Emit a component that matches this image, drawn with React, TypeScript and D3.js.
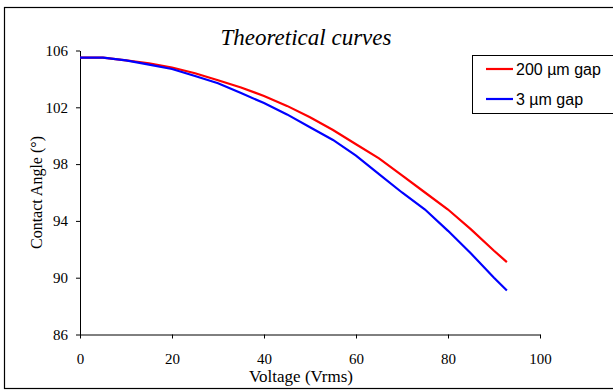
import React, { useEffect, useRef } from 'react';
import * as d3 from 'd3';

// Voltage (Vrms) sample points
const voltage = [0, 5, 10, 15, 20, 25, 30, 35, 40, 45, 50, 55, 60, 65, 70, 75, 80, 85, 90, 92.8];
// Contact angle (deg) for the 200 µm gap
const gap200 = [105.5, 105.5, 105.3, 105.1, 104.8, 104.4, 103.9, 103.4, 102.8, 102.1, 101.3, 100.4, 99.4, 98.4, 97.2, 96.0, 94.8, 93.4, 91.9, 91.1];
// Contact angle (deg) for the 3 µm gap
const gap3 = [105.5, 105.5, 105.3, 105.0, 104.7, 104.2, 103.7, 103.0, 102.3, 101.5, 100.6, 99.7, 98.6, 97.3, 96.0, 94.8, 93.3, 91.7, 90.0, 89.1];

const xTicks = [0, 20, 40, 60, 80, 100];
const yTicks = [86, 90, 94, 98, 102, 106];

const seriesNames = ['200 µm gap', '3 µm gap'];
const seriesColors = ['#ff0000', '#0000ff'];

const W = 613;
const H = 391;
const serif = '"Times New Roman", "Liberation Serif", serif';
const sans = 'Arial, "Liberation Sans", sans-serif';

export default function App() {
  const svgRef = useRef<SVGSVGElement>(null);

  useEffect(() => {
    if (!svgRef.current) return;
    const svg = d3.select(svgRef.current);
    svg.selectAll('*').remove();

    // outer frame (cut on the right like the source)
    svg.append('rect')
      .attr('x', 4.5).attr('y', 7.5)
      .attr('width', 620).attr('height', 381)
      .attr('fill', '#fff').attr('stroke', '#000').attr('stroke-width', 1.2);

    const x = d3.scaleLinear().domain([0, 100]).range([80, 540]);
    const y = d3.scaleLinear().domain([86, 106]).range([334.5, 50.5]);

    // x axis
    const xAxis = svg.append('g')
      .attr('transform', `translate(0,${y(86)})`)
      .call(d3.axisBottom(x).tickValues(xTicks).tickSize(4).tickSizeOuter(0).tickFormat(d3.format('d')));
    xAxis.select('.domain').attr('stroke', '#000');
    xAxis.selectAll('line').attr('stroke', '#000');
    xAxis.selectAll('text')
      .attr('font-family', serif).attr('font-size', 15).attr('fill', '#000')
      .attr('y', 29.5).attr('dy', 0);

    // y axis
    const yAxis = svg.append('g')
      .attr('transform', `translate(${x(0)},0)`)
      .call(d3.axisLeft(y).tickValues(yTicks).tickSize(4).tickSizeOuter(0).tickFormat(d3.format('d')));
    yAxis.select('.domain').attr('stroke', '#000');
    yAxis.selectAll('line').attr('stroke', '#000');
    yAxis.selectAll('text')
      .attr('font-family', serif).attr('font-size', 15).attr('fill', '#000').attr('x', -12);

    // curves
    const line = d3.line<number>()
      .x((_, i) => x(voltage[i]))
      .y(d => y(d));

    [gap200, gap3].forEach((s, k) => {
      svg.append('path')
        .datum(s)
        .attr('fill', 'none')
        .attr('stroke', seriesColors[k])
        .attr('stroke-width', 2.2)
        .attr('d', line);
    });

    // title
    svg.append('text')
      .attr('x', 306).attr('y', 45)
      .attr('text-anchor', 'middle')
      .attr('font-family', serif).attr('font-style', 'italic').attr('font-size', 23)
      .text('Theoretical curves');

    // axis titles
    svg.append('text')
      .attr('x', 301).attr('y', 382)
      .attr('text-anchor', 'middle')
      .attr('font-family', serif).attr('font-size', 17)
      .text('Voltage (Vrms)');

    svg.append('text')
      .attr('transform', `translate(42,${y(96)}) rotate(-90)`)
      .attr('text-anchor', 'middle')
      .attr('font-family', serif).attr('font-size', 16)
      .text('Contact Angle (°)');

    // legend
    const lg = svg.append('g').attr('transform', 'translate(472,55)');
    lg.append('rect')
      .attr('x', 0.5).attr('y', 0.5).attr('width', 160).attr('height', 58)
      .attr('fill', '#fff').attr('stroke', '#000');
    seriesNames.forEach((name, k) => {
      const ry = 14 + k * 30;
      lg.append('line')
        .attr('x1', 14).attr('x2', 41).attr('y1', ry).attr('y2', ry)
        .attr('stroke', seriesColors[k]).attr('stroke-width', 2.2);
      lg.append('text')
        .attr('x', 44).attr('y', ry + 6)
        .attr('font-family', sans).attr('font-size', 16)
        .text(name);
    });
  }, []);

  return (
    <svg
      ref={svgRef}
      width={W}
      height={H}
      style={{ position: 'absolute', left: 0, top: 0, background: '#fff' }}
    />
  );
}
